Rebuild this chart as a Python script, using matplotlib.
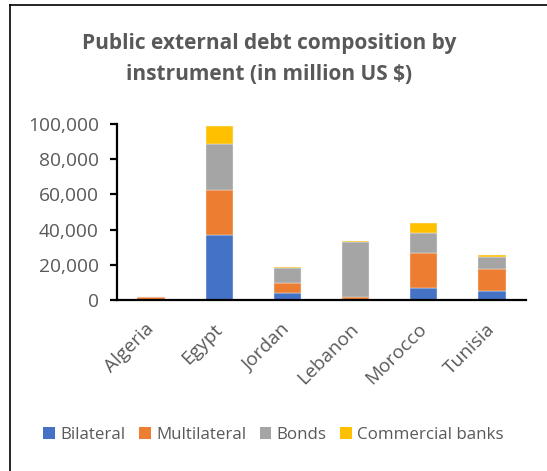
import matplotlib
matplotlib.use("Agg")
import matplotlib.pyplot as plt
from matplotlib.lines import Line2D
from matplotlib.patches import Patch
from matplotlib.ticker import FuncFormatter
import numpy as np

countries = ["Algeria", "Egypt", "Jordan", "Lebanon", "Morocco", "Tunisia"]
bilateral = [200, 36800, 3800, 200, 7000, 5300]
multilateral = [1300, 25900, 5700, 1500, 19900, 12500]
bonds = [0, 26100, 8900, 31400, 11000, 6800]
commercial = [0, 10100, 300, 300, 5700, 1000]

series_names = ["Bilateral", "Multilateral", "Bonds", "Commercial banks"]
series_colors = ["#4472C4", "#ED7D31", "#A5A5A5", "#FFC000"]
text_color = "#595959"

plt.rcParams["font.family"] = ["Open Sans", "DejaVu Sans"]

fig = plt.figure(figsize=(5.47, 4.71), dpi=100)
ax = fig.add_axes([0.2139, 0.363, 0.7477, 0.3737])

x = np.arange(len(countries))
bottom = np.zeros(len(countries))
for vals, color in zip([bilateral, multilateral, bonds, commercial], series_colors):
    vals = np.array(vals, dtype=float)
    ax.bar(x, vals, width=0.4, bottom=bottom, color=color,
           edgecolor="#f2f2f2", linewidth=0.3)
    bottom += vals

ax.set_xlim(-0.5, len(countries) - 0.5)
ax.set_ylim(0, 100000)
ax.set_yticks(np.arange(0, 100001, 20000))
ax.yaxis.set_major_formatter(FuncFormatter(lambda v, p: f"{int(v):,}"))
ax.set_xticks(x)
ax.set_xticklabels(countries, rotation=45, ha="right", va="center",
                   rotation_mode="anchor")

for s in ["top", "right"]:
    ax.spines[s].set_visible(False)
for s in ["left", "bottom"]:
    ax.spines[s].set_linewidth(1.6)
    ax.spines[s].set_color("black")

ax.tick_params(axis="y", length=5, width=1.6, pad=8, labelsize=13.8,
               labelcolor=text_color, color="black")
ax.tick_params(axis="x", length=0, pad=19, labelsize=13.8, labelcolor=text_color)

fig.text(0.492, 0.907, "Public external debt composition by",
         ha="center", va="center", fontsize=15, fontweight="bold",
         color=text_color)
fig.text(0.492, 0.842, "instrument (in million US $)",
         ha="center", va="center", fontsize=15, fontweight="bold",
         color=text_color)

handles = [Patch(facecolor=c, edgecolor="none") for c in series_colors]
fig.legend(handles, series_names, loc="center", bbox_to_anchor=(0.5, 0.076),
           ncol=4, frameon=False, fontsize=12.2, labelcolor=text_color,
           handlelength=0.7, handleheight=0.7, handletextpad=0.3,
           columnspacing=0.8)

# chart frame
fig.add_artist(Line2D([0.0174, 0.0174], [0.0, 0.989], transform=fig.transFigure,
                      color="black", linewidth=1.2))
fig.add_artist(Line2D([0.0174, 1.0], [0.989, 0.989], transform=fig.transFigure,
                      color="black", linewidth=1.2))

fig.savefig("out.png", dpi=100, facecolor="white")
